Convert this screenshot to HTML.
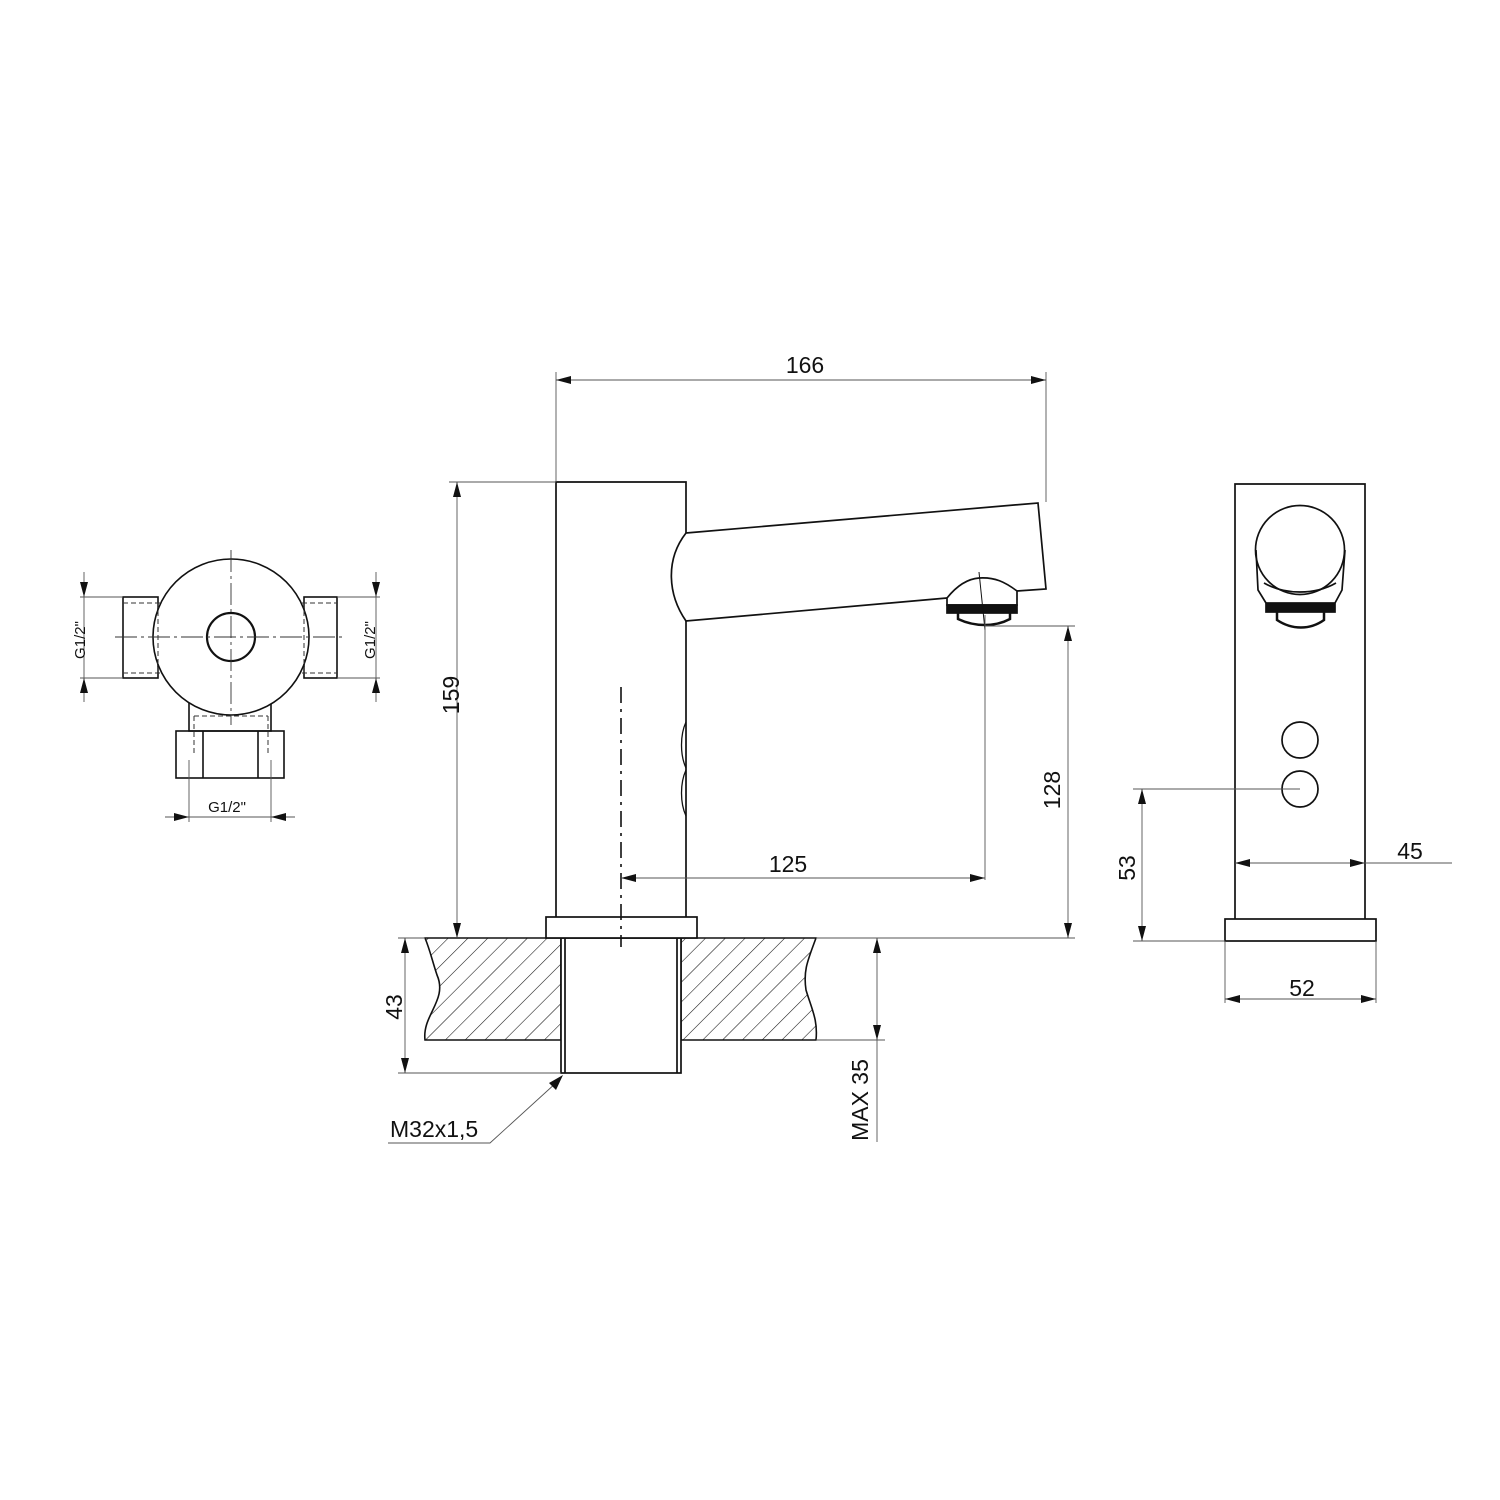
<!DOCTYPE html>
<html><head><meta charset="utf-8"><style>
html,body{margin:0;padding:0;background:#fff;}
svg{display:block;}
text{font-family:"Liberation Sans",sans-serif;fill:#111;}
</style></head><body>
<svg width="1500" height="1500" viewBox="0 0 1500 1500" xmlns="http://www.w3.org/2000/svg">
<defs>
<marker id="a" markerWidth="16" markerHeight="10" refX="15" refY="5" orient="auto-start-reverse" markerUnits="userSpaceOnUse">
<path d="M0,1 L15,5 L0,9 Z" fill="#111"/></marker>
<pattern id="h" patternUnits="userSpaceOnUse" width="14" height="14" patternTransform="rotate(45)">
<line x1="0" y1="0" x2="0" y2="14" stroke="#111" stroke-width="1.1"/></pattern>
</defs>

<!-- ============ LEFT VALVE VIEW ============ -->
<g stroke="#111" fill="none" stroke-width="1.6">
<rect x="123" y="597" width="35" height="81"/>
<rect x="304" y="597" width="33" height="81"/>
<rect x="189" y="700" width="82" height="31" fill="#fff"/>
<circle cx="231" cy="637" r="78" fill="#fff"/>
<circle cx="231" cy="637" r="24" stroke-width="2.2"/>
<rect x="176" y="731" width="108" height="47"/>
<line x1="203" y1="731" x2="203" y2="778"/>
<line x1="258" y1="731" x2="258" y2="778"/>
</g>
<g stroke="#333" fill="none" stroke-width="1" stroke-dasharray="5,3">
<line x1="123" y1="603" x2="160" y2="603"/><line x1="123" y1="673" x2="160" y2="673"/>
<line x1="158" y1="603" x2="158" y2="673"/>
<line x1="302" y1="603" x2="337" y2="603"/><line x1="302" y1="673" x2="337" y2="673"/>
<line x1="304" y1="603" x2="304" y2="673"/>
<line x1="194" y1="716" x2="268" y2="716"/>
<line x1="194" y1="716" x2="194" y2="755"/><line x1="268" y1="716" x2="268" y2="755"/>
</g>
<g stroke="#333" stroke-width="0.9" stroke-dasharray="22,4,3,4">
<line x1="115" y1="637" x2="345" y2="637"/>
<line x1="231" y1="550" x2="231" y2="725"/>
</g>
<g stroke="#555" stroke-width="0.9" fill="none">
<line x1="80" y1="597" x2="123" y2="597"/><line x1="80" y1="678" x2="123" y2="678"/>
<line x1="84" y1="572" x2="84" y2="597" marker-end="url(#a)"/>
<line x1="84" y1="702" x2="84" y2="678" marker-end="url(#a)"/>
<line x1="84" y1="597" x2="84" y2="678"/>
<line x1="337" y1="597" x2="380" y2="597"/><line x1="337" y1="678" x2="380" y2="678"/>
<line x1="376" y1="572" x2="376" y2="597" marker-end="url(#a)"/>
<line x1="376" y1="702" x2="376" y2="678" marker-end="url(#a)"/>
<line x1="376" y1="597" x2="376" y2="678"/>
<line x1="189" y1="760" x2="189" y2="822"/><line x1="271" y1="760" x2="271" y2="822"/>
<line x1="165" y1="817" x2="189" y2="817" marker-end="url(#a)"/>
<line x1="295" y1="817" x2="271" y2="817" marker-end="url(#a)"/>
<line x1="189" y1="817" x2="271" y2="817"/>
</g>
<text x="80" y="640" font-size="15" text-anchor="middle" transform="rotate(-90 80 640)" dy="5">G1/2"</text>
<text x="370" y="640" font-size="15" text-anchor="middle" transform="rotate(-90 370 640)" dy="5">G1/2"</text>
<text x="227" y="812" font-size="15" text-anchor="middle">G1/2"</text>

<!-- ============ SIDE VIEW ============ -->
<path d="M425,938 L561,938 L561,1040 L425,1040 C422,1015 448,1000 437,975 C432,960 430,950 425,938 Z" fill="url(#h)" stroke="#111" stroke-width="1.6"/>
<path d="M681,938 L816,938 C808,960 803,970 806,990 C812,1010 818,1020 816,1040 L681,1040 Z" fill="url(#h)" stroke="#111" stroke-width="1.6"/>
<g stroke="#111" fill="none" stroke-width="1.7">
<rect x="561" y="938" width="120" height="135" fill="#fff"/>
<line x1="565" y1="938" x2="565" y2="1073"/><line x1="677" y1="938" x2="677" y2="1073"/>
<rect x="546" y="917" width="151" height="21" fill="#fff"/>
<path d="M686,533 L686,482 L556,482 L556,917 M686,917 L686,621"/>
<path d="M686,533 L1038,503 L1046,589 L1017,591 M947,598 L686,621 C668,595 665,560 686,533"/>
<path d="M947,598 L947,605 L1017,605 L1017,591 C1005,582 995,577 979,578 C966,579 955,588 947,598 Z"/>
<rect x="947" y="605" width="70" height="8" fill="#111"/>
<path d="M958,613 L958,619 C975,627 995,627 1010,619 L1010,613" stroke-width="2.5"/>
<path d="M686,722 C680,735 680,755 686,768 M686,770 C680,783 680,803 686,816" stroke-width="1.3"/>
</g>
<line x1="979" y1="572" x2="985" y2="630" stroke="#111" stroke-width="1"/>
<line x1="621" y1="687" x2="621" y2="947" stroke="#111" stroke-width="1.6" stroke-dasharray="16,6,3,6"/>

<g stroke="#555" stroke-width="0.9" fill="none">
<line x1="556" y1="372" x2="556" y2="482"/><line x1="1046" y1="372" x2="1046" y2="502"/>
<line x1="556" y1="380" x2="1046" y2="380" marker-start="url(#a)" marker-end="url(#a)"/>
<line x1="449" y1="482" x2="556" y2="482"/>
<line x1="457" y1="482" x2="457" y2="938" marker-start="url(#a)" marker-end="url(#a)"/>
<line x1="985" y1="626" x2="1075" y2="626"/>
<line x1="816" y1="938" x2="1075" y2="938"/>
<line x1="1068" y1="626" x2="1068" y2="938" marker-start="url(#a)" marker-end="url(#a)"/>
<line x1="985" y1="615" x2="985" y2="880"/>
<line x1="621" y1="878" x2="985" y2="878" marker-start="url(#a)" marker-end="url(#a)"/>
<line x1="398" y1="938" x2="425" y2="938"/>
<line x1="398" y1="1073" x2="561" y2="1073"/>
<line x1="405" y1="938" x2="405" y2="1073" marker-start="url(#a)" marker-end="url(#a)"/>
<line x1="816" y1="1040" x2="885" y2="1040"/>
<line x1="877" y1="938" x2="877" y2="1040" marker-start="url(#a)" marker-end="url(#a)"/>
<line x1="877" y1="1040" x2="877" y2="1142"/>
<polyline points="388,1143 490,1143 557,1082"/>
</g>
<polygon points="563,1075 549,1083 556,1090" fill="#111"/>
<text x="805" y="373" font-size="23" text-anchor="middle">166</text>
<text x="788" y="872" font-size="23" text-anchor="middle">125</text>
<text x="451" y="695" font-size="23" text-anchor="middle" transform="rotate(-90 451 695)" dy="8">159</text>
<text x="1052" y="790" font-size="23" text-anchor="middle" transform="rotate(-90 1052 790)" dy="8">128</text>
<text x="394" y="1007" font-size="23" text-anchor="middle" transform="rotate(-90 394 1007)" dy="8">43</text>
<text x="860" y="1100" font-size="23" text-anchor="middle" transform="rotate(-90 860 1100)" dy="8">MAX 35</text>
<text x="390" y="1137" font-size="23">M32x1,5</text>

<!-- ============ FRONT VIEW ============ -->
<g stroke="#111" fill="none" stroke-width="1.7">
<path d="M1235,919 L1235,484 L1365,484 L1365,919"/>
<rect x="1225" y="919" width="151" height="22"/>
<circle cx="1300" cy="550" r="44.5"/>
<path d="M1256,550 L1258,590 L1266,603 M1345,550 L1342,590 L1335,603 M1264,583 C1285,595 1315,595 1336,583"/>
<rect x="1266" y="603" width="69" height="9" fill="#111"/>
<path d="M1277,612 L1277,620 C1292,630 1310,630 1324,620 L1324,612" stroke-width="2.5"/>
<circle cx="1300" cy="740" r="18"/>
<circle cx="1300" cy="789" r="18"/>
</g>
<g stroke="#555" stroke-width="0.9" fill="none">
<line x1="1133" y1="789" x2="1300" y2="789"/>
<line x1="1133" y1="941" x2="1225" y2="941"/>
<line x1="1142" y1="789" x2="1142" y2="941" marker-start="url(#a)" marker-end="url(#a)"/>
<line x1="1235" y1="863" x2="1365" y2="863" marker-start="url(#a)" marker-end="url(#a)"/>
<line x1="1365" y1="863" x2="1452" y2="863"/>
<line x1="1225" y1="941" x2="1225" y2="1003"/><line x1="1376" y1="941" x2="1376" y2="1003"/>
<line x1="1225" y1="999" x2="1376" y2="999" marker-start="url(#a)" marker-end="url(#a)"/>
</g>
<text x="1410" y="859" font-size="23" text-anchor="middle">45</text>
<text x="1302" y="996" font-size="23" text-anchor="middle">52</text>
<text x="1127" y="868" font-size="23" text-anchor="middle" transform="rotate(-90 1127 868)" dy="8">53</text>
</svg>
</body></html>
